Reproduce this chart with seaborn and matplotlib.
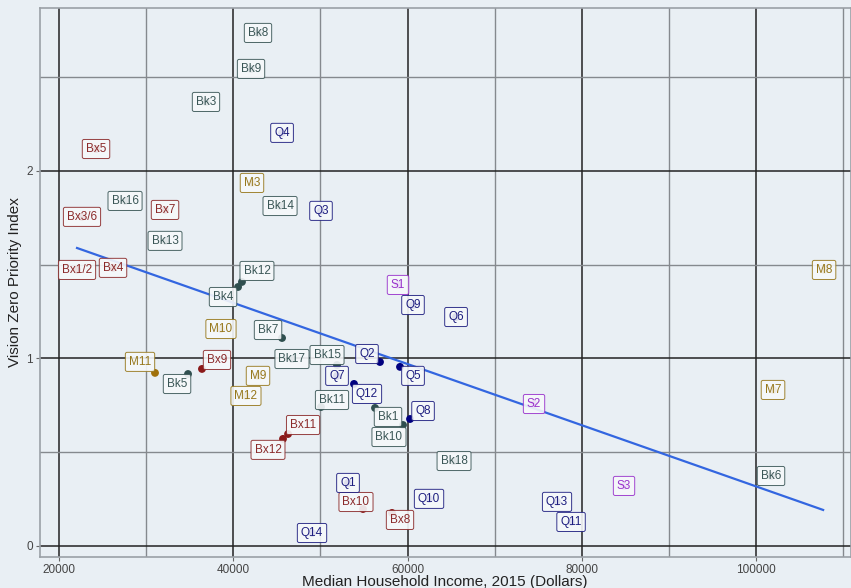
import numpy as np
import pandas as pd
import seaborn as sns
import matplotlib.pyplot as plt

# community districts: median income vs vision zero priority index
labels = ["Bx1/2", "Bx3/6", "Bx4", "Bx5", "Bx7", "Bx8", "Bx9", "Bx10", "Bx11", "Bx12",
          "Bk1", "Bk3", "Bk4", "Bk5", "Bk6", "Bk7", "Bk8", "Bk9", "Bk10", "Bk11",
          "Bk12", "Bk13", "Bk14", "Bk15", "Bk16", "Bk17", "Bk18",
          "M3", "M7", "M8", "M9", "M10", "M11", "M12",
          "Q1", "Q2", "Q3", "Q4", "Q5", "Q6", "Q7", "Q8", "Q9", "Q10", "Q11", "Q12", "Q13", "Q14",
          "S1", "S2", "S3"]
borough = ["Bronx"] * 10 + ["Brooklyn"] * 17 + ["Manhattan"] * 7 + ["Queens"] * 14 + ["Staten Island"] * 3
income = [22070, 22640, 26200, 24250, 32170, 58220, 36410, 54890, 46290, 45710,
          56270, 36870, 40550, 34810, 101720, 45600, 42840, 42040, 59480, 50070,
          41000, 32170, 45370, 51910, 27580, 46740, 65340,
          42150, 101950, 107810, 42840, 38590, 31020, 41460,
          53170, 56840, 50070, 45600, 59140, 65570, 51910, 60290, 60630, 62470, 78770, 53860, 77160, 49040,
          58910, 74520, 84850]
vz_index = [1.472, 1.755, 1.483, 2.117, 1.792, 0.176, 0.944, 0.197, 0.597, 0.571,
            0.736, 2.368, 1.381, 0.917, 0.373, 1.109, 2.736, 2.544, 0.645, 0.741,
            1.408, 1.627, 1.813, 0.965, 1.840, 0.997, 0.453,
            1.936, 0.832, 1.472, 0.907, 1.157, 0.923, 0.800,
            0.336, 0.981, 1.787, 2.203, 0.955, 1.221, 0.907, 0.677, 1.285, 0.251, 0.128, 0.864, 0.235, 0.069,
            1.392, 0.757, 0.320]

# linear fit
fit_income = [22070, 107700]
fit_index = [1.589, 0.192]

# label nudges (pixels) where the label was pushed off its point
nudge = {"Bx8": (8, -7), "Bx9": (15, 9), "Bx10": (-7, 7), "Bx11": (15, 9), "Bx12": (-15, -11),
         "Bk1": (13, -9), "Bk4": (-15, -10), "Bk5": (-11, -10), "Bk7": (-14, 8), "Bk10": (-14, -12),
         "Bk11": (11, 7), "Bk12": (15, 11), "Bk15": (-10, 10), "M11": (-15, 11),
         "Q2": (-13, 8), "Q5": (13, -9), "Q8": (13, 8), "Q12": (13, -10)}

dot_colors = {"Bronx": "#8b1a1a", "Brooklyn": "#2f4f4f", "Manhattan": "#a0700a",
              "Queens": "#00007f", "Staten Island": "#9932cc"}
text_colors = {"Bronx": "#8b2a2a", "Brooklyn": "#3a5656", "Manhattan": "#97781c",
               "Queens": "#1e1e80", "Staten Island": "#9932cc"}

df = pd.DataFrame({"label": labels, "borough": borough, "income": income, "index": vz_index})

bg = "#e9eff4"
plt.rcParams["font.family"] = ["Liberation Sans", "DejaVu Sans"]
fig = plt.figure(figsize=(8.51, 5.88), dpi=100, facecolor=bg)
ax = fig.add_axes([40 / 851, 1 - 557 / 588, 1 - 40 / 851, (557 - 8) / 588])
ax.set_facecolor(bg)

sns.scatterplot(data=df, x="income", y="index", hue="borough", palette=dot_colors,
                s=32, edgecolor="none", legend=False, ax=ax, zorder=3)
sns.lineplot(x=fit_income, y=fit_index, color="#3366e0", lw=1.6, ax=ax, zorder=2)

for _, r in df.iterrows():
    dx, dy = nudge.get(r["label"], (0, 0))
    ax.annotate(r["label"], (r["income"], r["index"]), xytext=(dx, dy),
                textcoords="offset pixels", ha="center", va="center",
                fontsize=8.5, color=text_colors[r["borough"]], zorder=4,
                bbox=dict(boxstyle="round,pad=0.3,rounding_size=0.15", fc="#f6f8fa",
                          ec=text_colors[r["borough"]], lw=0.7, alpha=0.9))

ax.set_xlim(17820, 110900)
ax.set_ylim(-0.059, 2.869)
ax.set_xticks([20000, 40000, 60000, 80000, 100000])
ax.set_xticks([30000, 50000, 70000, 90000, 110000], minor=True)
ax.set_yticks([0, 1, 2])
ax.set_yticks([0.5, 1.5, 2.5], minor=True)
ax.grid(which="major", color="#222222", lw=1.1, zorder=0)
ax.grid(which="minor", color="#85898e", lw=1.0, zorder=0)
ax.set_axisbelow(True)
ax.tick_params(which="major", length=3, pad=2, color="#666666", labelsize=8.5, labelcolor="#444444")
ax.tick_params(which="minor", length=0)
for s in ax.spines.values():
    s.set_color("#9aa0a6")
    s.set_linewidth(1.2)

ax.set_xlabel("Median Household Income, 2015 (Dollars)", fontsize=11, color="#222222")
ax.set_ylabel("Vision Zero Priority Index", fontsize=11, color="#222222")
ax.xaxis.set_label_coords((445 - 40) / 811, -(575 - 557) / 549)
ax.yaxis.set_label_coords(-(40 - 22) / 811, (557 - 282) / 549)

fig.savefig("out.png", dpi=100, facecolor=bg)
